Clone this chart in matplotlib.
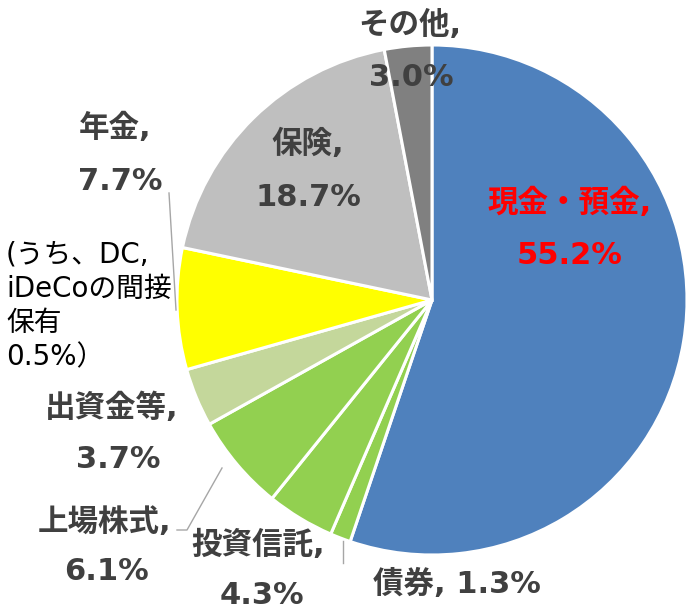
import matplotlib
matplotlib.use("Agg")
import matplotlib.pyplot as plt

# Latin/digits from DejaVu (Verdana-like, like Meiryo), CJK falls through to Noto
plt.rcParams['font.family'] = ['DejaVu Sans', 'Noto Sans CJK JP']

# data
categories = ["現金・預金", "債券", "投資信託", "上場株式", "出資金等", "年金", "保険", "その他"]
shares = [55.2, 1.3, 4.3, 6.1, 3.7, 7.7, 18.7, 3.0]
colors = ["#4F81BD", "#92D050", "#92D050", "#92D050", "#C4D79B", "#FFFF00", "#BFBFBF", "#808080"]
note_lines = ["(うち、DC,", "iDeCoの間接", "保有", "0.5%）"]

W, H = 686, 610
fig = plt.figure(figsize=(W / 100, H / 100), dpi=100)
ax = fig.add_axes([0, 0, 1, 1])


def py(y):
    # pixel row -> data y
    return H - y


cx, cy, r = 432, 300, 255
ax.pie(shares, colors=colors, startangle=90, counterclock=False,
       center=(cx, py(cy)), radius=r, frame=True,
       wedgeprops=dict(edgecolor='white', linewidth=2.2))
ax.set_xlim(0, W)
ax.set_ylim(0, H)
ax.set_aspect('equal')
ax.axis('off')

txt = "#404040"
fs = 22

# label positions (pixel coords of text centres): name line, value line
label_pos = {
    "現金・預金": ((570, 203), (570, 256)),
    "その他": ((410, 25), (411, 77)),
    "保険": ((308, 144), (308, 197)),
    "年金": ((115, 128), (120, 182)),
    "出資金等": ((112, 408), (118, 460)),
    "上場株式": ((105, 522), (107, 572)),
    "投資信託": ((258, 545), (262, 595)),
}
for name, val in zip(categories, shares):
    color = "#FF0000" if name == "現金・預金" else txt
    if name == "債券":
        ax.text(457, py(584), f"{name}, {val}%", ha='center', va='center',
                fontsize=fs, fontweight='bold', color=color)
        continue
    (x1, y1), (x2, y2) = label_pos[name]
    ax.text(x1, py(y1), f"{name},", ha='center', va='center',
            fontsize=fs, fontweight='bold', color=color)
    ax.text(x2, py(y2), f"{val}%", ha='center', va='center',
            fontsize=fs, fontweight='bold', color=color)

# note under 年金
for i, line in enumerate(note_lines):
    ax.text(6, py(255 + i * 34), line, ha='left', va='center',
            fontsize=20, color='black')

# leader lines
lc = "#A6A6A6"
ax.plot([169, 176], [py(193), py(310)], color=lc, lw=1)
ax.plot([222, 187, 177], [py(468), py(530), py(530)], color=lc, lw=1)
ax.plot([343, 343], [py(541), py(563)], color=lc, lw=1)

fig.savefig("out.png", dpi=100)
